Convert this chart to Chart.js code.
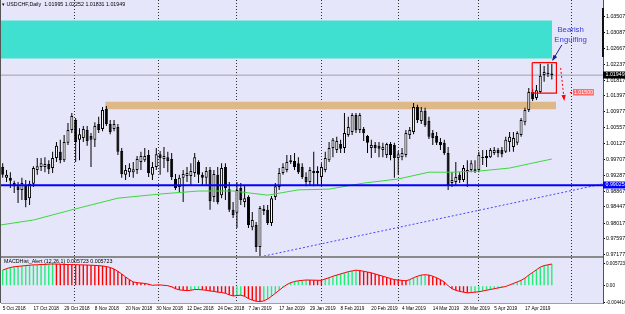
<!DOCTYPE html>
<html>
<head>
<meta charset="utf-8">
<script src="https://cdn.jsdelivr.net/npm/chart.js@4.4.0/dist/chart.umd.min.js"></script>
<style>
  html, body { margin: 0; padding: 0; background: #fff; }
  #wrap { width: 625px; height: 314px; }
</style>
</head>
<body>
<div id="wrap"><canvas id="chart" width="625" height="314"></canvas></div>
<script>
// USDCHF daily bars, 5 Oct 2018 .. 26 Apr 2019 (index = bar number)
const opens = [
  0.9951, 0.9922, 0.9922, 0.9908, 0.9900, 0.9890, 0.9903, 0.9868, 0.9906, 0.9943,
  0.9951, 0.9951, 0.9959, 0.9948, 0.9975, 0.9991, 0.9969, 1.0015, 1.0049, 1.0076,
  1.0023, 1.0028, 1.0049, 1.0033, 1.0023, 1.0065, 1.0052, 1.0105, 1.0065, 1.0052,
  1.0057, 0.9993, 0.9930, 0.9937, 0.9937, 0.9943, 0.9964, 0.9969, 0.9983, 0.9930,
  0.9951, 0.9985, 0.9972, 0.9977, 0.9972, 0.9919, 0.9898, 0.9922, 0.9927, 0.9927,
  0.9935, 0.9964, 0.9930, 0.9922, 0.9943, 0.9871, 0.9930, 0.9876, 0.9951, 0.9892,
  0.9837, 0.9829, 0.9895, 0.9858, 0.9871, 0.9791, 0.9797, 0.9738, 0.9839, 0.9837,
  0.9802, 0.9871, 0.9898, 0.9935, 0.9943, 0.9964, 0.9967, 0.9961, 0.9951, 0.9924,
  0.9911, 0.9935, 0.9935, 0.9924, 0.9943, 0.9969, 1.0001, 0.9996, 1.0012, 1.0001,
  1.0036, 1.0044, 1.0089, 1.0049, 1.0052, 1.0033, 1.0001, 1.0009, 1.0007, 0.9996,
  0.9983, 1.0012, 1.0009, 0.9975, 0.9977, 0.9983, 1.0036, 1.0044, 1.0110, 1.0073,
  1.0100, 1.0073, 1.0041, 1.0033, 1.0017, 1.0015, 0.9988, 0.9908, 0.9911, 0.9930,
  0.9916, 0.9937, 0.9943, 0.9940, 0.9943, 0.9975, 0.9975, 0.9977, 0.9988, 0.9996,
  0.9996, 0.9991, 1.0017, 1.0004, 1.0015, 1.0036, 1.0070, 1.0102, 1.0150, 1.0134,
  1.0150, 1.0195, 1.0198, 1.01995
];
const highs = [
  0.9961, 0.9943, 0.9937, 0.9914, 0.9911, 0.9922, 0.9916, 0.9914, 0.9953, 0.9975,
  0.9975, 0.9977, 0.9969, 0.9991, 1.0017, 1.0023, 1.0036, 1.0068, 1.0094, 1.0081,
  1.0054, 1.0060, 1.0060, 1.0041, 1.0070, 1.0084, 1.0110, 1.0113, 1.0076, 1.0076,
  1.0065, 1.0001, 0.9956, 0.9961, 0.9964, 0.9980, 0.9991, 1.0001, 0.9996, 0.9964,
  1.0001, 0.9993, 1.0004, 0.9991, 0.9988, 0.9932, 0.9930, 0.9943, 0.9951, 0.9961,
  0.9988, 0.9969, 0.9937, 0.9951, 0.9951, 0.9943, 0.9951, 0.9961, 0.9961, 0.9911,
  0.9858, 0.9911, 0.9908, 0.9903, 0.9876, 0.9831, 0.9805, 0.9847, 0.9850, 0.9850,
  0.9874, 0.9908, 0.9948, 0.9961, 0.9983, 0.9983, 0.9988, 0.9977, 0.9961, 0.9937,
  0.9951, 0.9991, 0.9953, 0.9961, 0.9991, 1.0017, 1.0028, 1.0031, 1.0023, 1.0094,
  1.0084, 1.0094, 1.0094, 1.0094, 1.0057, 1.0036, 1.0023, 1.0017, 1.0017, 1.0015,
  1.0015, 1.0017, 1.0015, 0.9993, 1.0001, 1.0049, 1.0057, 1.0121, 1.0116, 1.0110,
  1.0108, 1.0084, 1.0049, 1.0044, 1.0028, 1.0023, 1.0004, 0.9937, 0.9964, 0.9937,
  0.9956, 0.9969, 0.9969, 0.9969, 0.9991, 0.9996, 0.9996, 1.0001, 1.0004, 1.0001,
  1.0004, 1.0031, 1.0044, 1.0044, 1.0046, 1.0081, 1.0108, 1.0161, 1.0158, 1.0169,
  1.0225, 1.0219, 1.0225, 1.02252
];
const lows = [
  0.9922, 0.9911, 0.9895, 0.9882, 0.9855, 0.9863, 0.9844, 0.9850, 0.9898, 0.9930,
  0.9940, 0.9937, 0.9932, 0.9935, 0.9964, 0.9961, 0.9964, 1.0009, 1.0041, 0.9964,
  0.9969, 1.0017, 1.0007, 0.9951, 1.0004, 1.0041, 1.0046, 1.0060, 1.0038, 1.0046,
  0.9983, 0.9922, 0.9916, 0.9924, 0.9922, 0.9932, 0.9943, 0.9964, 0.9924, 0.9916,
  0.9943, 0.9930, 0.9948, 0.9937, 0.9916, 0.9890, 0.9882, 0.9858, 0.9911, 0.9903,
  0.9924, 0.9908, 0.9903, 0.9903, 0.9837, 0.9858, 0.9852, 0.9868, 0.9863, 0.9831,
  0.9815, 0.9789, 0.9850, 0.9844, 0.9789, 0.9783, 0.9725, 0.9712, 0.9823, 0.9797,
  0.9794, 0.9863, 0.9890, 0.9930, 0.9937, 0.9959, 0.9943, 0.9932, 0.9919, 0.9900,
  0.9903, 0.9900, 0.9903, 0.9903, 0.9937, 0.9964, 0.9977, 0.9988, 0.9988, 0.9988,
  1.0031, 1.0036, 1.0041, 1.0041, 1.0020, 0.9988, 0.9975, 0.9988, 0.9977, 0.9977,
  0.9975, 0.9969, 0.9922, 0.9930, 0.9969, 0.9977, 1.0025, 1.0038, 1.0068, 1.0065,
  1.0057, 1.0025, 1.0009, 1.0009, 0.9996, 0.9983, 0.9890, 0.9898, 0.9903, 0.9908,
  0.9911, 0.9898, 0.9937, 0.9935, 0.9937, 0.9956, 0.9951, 0.9975, 0.9983, 0.9977,
  0.9977, 0.9988, 0.9991, 0.9991, 1.0009, 1.0031, 1.0062, 1.0097, 1.0126, 1.0129,
  1.0147, 1.0177, 1.0190, 1.01831
];
const closes = [
  0.9930, 0.9930, 0.9914, 0.9900, 0.9890, 0.9908, 0.9863, 0.9906, 0.9948, 0.9953,
  0.9961, 0.9959, 0.9945, 0.9975, 1.0007, 0.9969, 1.0017, 1.0049, 1.0086, 1.0017,
  1.0038, 1.0052, 1.0020, 1.0023, 1.0060, 1.0049, 1.0102, 1.0065, 1.0044, 1.0065,
  0.9991, 0.9932, 0.9943, 0.9948, 0.9945, 0.9972, 0.9980, 0.9980, 0.9935, 0.9951,
  0.9985, 0.9975, 0.9980, 0.9967, 0.9924, 0.9895, 0.9922, 0.9932, 0.9935, 0.9940,
  0.9977, 0.9930, 0.9922, 0.9940, 0.9860, 0.9932, 0.9858, 0.9948, 0.9895, 0.9837,
  0.9823, 0.9890, 0.9863, 0.9868, 0.9797, 0.9810, 0.9738, 0.9842, 0.9834, 0.9802,
  0.9868, 0.9900, 0.9935, 0.9951, 0.9964, 0.9969, 0.9951, 0.9937, 0.9924, 0.9911,
  0.9943, 0.9940, 0.9940, 0.9951, 0.9975, 1.0001, 1.0023, 1.0020, 0.9999, 1.0041,
  1.0057, 1.0089, 1.0049, 1.0089, 1.0041, 1.0015, 1.0009, 1.0001, 0.9999, 1.0004,
  1.0012, 0.9983, 0.9975, 0.9985, 0.9988, 1.0041, 1.0049, 1.0110, 1.0076, 1.0100,
  1.0062, 1.0031, 1.0028, 1.0015, 1.0009, 0.9988, 0.9903, 0.9916, 0.9924, 0.9916,
  0.9948, 0.9943, 0.9961, 0.9945, 0.9983, 0.9977, 0.9980, 0.9996, 0.9996, 0.9988,
  0.9985, 1.0023, 1.0031, 1.0028, 1.0041, 1.0076, 1.0102, 1.0150, 1.0131, 1.0155,
  1.0193, 1.0203, 1.0201, 1.01949
];
// MACDHist_Alert(12,26,1) value per bar
const macd = [
  0.0041, 0.0045, 0.0048, 0.0050, 0.0051, 0.0052, 0.0053, 0.0054, 0.0055, 0.0055,
  0.0056, 0.0056, 0.0057, 0.00572, 0.0057, 0.00565, 0.0056, 0.00558, 0.00556, 0.00553,
  0.0055, 0.00548, 0.00545, 0.0054, 0.00535, 0.0053, 0.0052, 0.00505, 0.0048, 0.0044,
  0.0038, 0.0031, 0.0023, 0.0016, 0.0010, 0.0008, 0.0007, 0.0006, 0.0004, 0.0001,
  0.0002, 0.0002, 0.0001, 0.0000, -0.0003, -0.0008, -0.0011, -0.0012, -0.0013, -0.0012,
  -0.0010, -0.0010, -0.0011, -0.0012, -0.0014, -0.0015, -0.0017, -0.0018, -0.0020, -0.0024,
  -0.0027, -0.0026, -0.0025, -0.0028, -0.0034, -0.0038, -0.0041, -0.0042, -0.0040, -0.0035,
  -0.0028, -0.0020, -0.0012, -0.0004, 0.0003, 0.0008, 0.0011, 0.0013, 0.0014, 0.0015,
  0.00148, 0.00145, 0.00143, 0.0014, 0.0018, 0.0021, 0.0025, 0.0028, 0.0031, 0.0034,
  0.0037, 0.0039, 0.0041, 0.0040, 0.0038, 0.0036, 0.0034, 0.0031, 0.0028, 0.0025,
  0.0022, 0.0019, 0.0016, 0.0015, 0.0014, 0.0013, 0.0016, 0.0021, 0.0025, 0.0028,
  0.0029, 0.0028, 0.0025, 0.0021, 0.0016, 0.0010, 0.0000, -0.0008, -0.0012, -0.0015,
  -0.0017, -0.0019, -0.0018, -0.0017, -0.0016, -0.0014, -0.0012, -0.0010, -0.0008, -0.0006,
  -0.0004, -0.0002, 0.0002, 0.0006, 0.0010, 0.0014, 0.0020, 0.0028, 0.0035, 0.0042,
  0.0049, 0.0053, 0.0055, 0.00572
];
// green moving average, read at a few bars
const maBars   = [-0.44, 8, 18, 30, 41, 51, 60, 69, 77, 85, 94, 103, 111, 117, 124, 132, 137, 143];
const maValues = [0.9797, 0.9810, 0.9837, 0.9868, 0.9879, 0.9887, 0.9887, 0.9876, 0.9890, 0.9892,
                  0.9908, 0.9919, 0.9937, 0.9937, 0.9940, 0.9948, 0.9959, 0.9972];

const dateLabels = ['5 Oct 2018', '17 Oct 2018', '29 Oct 2018', '8 Nov 2018', '20 Nov 2018', '30 Nov 2018',
  '12 Dec 2018', '24 Dec 2018', '7 Jan 2019', '17 Jan 2019', '29 Jan 2019', '8 Feb 2019',
  '20 Feb 2019', '4 Mar 2019', '14 Mar 2019', '26 Mar 2019', '5 Apr 2019', '17 Apr 2019'];
const dateLabelBars = [0, 8, 16, 24, 32, 40, 48, 56, 64, 72, 80, 88, 96, 104, 112, 120, 128, 136];
const monthStartBars = [18.6, 40.7, 61, 83, 103, 124, 148.2];
const priceTicks = [1.03507, 1.03087, 1.02667, 1.02237, 1.01817, 1.01397, 1.00977, 1.00557,
  1.00127, 0.99707, 0.99287, 0.98867, 0.98447, 0.98017, 0.97597, 0.97177];
const macdTicks = [0.005723, 0, -0.004416];
const macdTickLabels = ['0.005723', '0.00', '-0.004416'];

const lastPrice = 1.01949;
const supportLevel = 0.99025;
const targetPrice = 1.01500;
const resistZone = { from: -0.44, to: 143.1, low: 1.0239, high: 1.0340 };
const breakZone = { from: 26.7, to: 144.1, low: 1.0104, high: 1.0124 };
const trendLine = [{ x: 67, y: 0.9712 }, { x: 156.33, y: 0.9906 }];
const patternBox = { from: 137.9, to: 144.2, low: 1.0147, high: 1.0228 };
const blueArrow = [{ x: 145.6, y: 1.0275 }, { x: 143.3, y: 1.0236 }];
const redArrow = [{ x: 145.3, y: 1.0214 }, { x: 146.2, y: 1.0130 }];

const xMin = -0.44, xMax = 156.33;
const yMin = 0.97117, yMax = 1.03945;
const mMin = -0.004562, mMax = 0.007568;

const FONT = '"Liberation Sans", Arial, sans-serif';
Chart.defaults.font.family = FONT;
Chart.defaults.font.size = 5.3;
Chart.defaults.color = '#000';

const wickData = opens.map((o, i) => ({ x: i, y: [lows[i], highs[i]] }));
const bodyData = opens.map((o, i) => ({ x: i, y: [Math.min(o, closes[i]), Math.max(o, closes[i])] }));
const bodyFill = opens.map((o, i) => closes[i] >= o ? '#ffffff' : '#000000');
const macdData = macd.map((v, i) => ({ x: i, y: v }));
const macdColor = macd.map((v, i) => (i === 0 || v >= macd[i - 1]) ? '#22ee77' : '#ff0000');
const maData = maBars.map((b, i) => ({ x: b, y: maValues[i] }));

function hLine(v) { return [{ x: xMin, y: v }, { x: xMax, y: v }]; }
function band(r, v) { return [{ x: r.from, y: v }, { x: r.to, y: v }]; }
function rect(r) {
  return [{ x: r.from, y: r.high }, { x: r.to, y: r.high }, { x: r.to, y: r.low },
          { x: r.from, y: r.low }, { x: r.from, y: r.high }];
}

function drawArrow(ctx, p1, p2, color, dash, head) {
  ctx.save();
  ctx.strokeStyle = color;
  ctx.fillStyle = color;
  ctx.lineWidth = 1;
  ctx.setLineDash(dash);
  ctx.beginPath();
  ctx.moveTo(p1.x, p1.y);
  ctx.lineTo(p2.x, p2.y);
  ctx.stroke();
  ctx.setLineDash([]);
  const a = Math.atan2(p2.y - p1.y, p2.x - p1.x);
  ctx.beginPath();
  ctx.moveTo(p2.x + Math.cos(a) * 1.5, p2.y + Math.sin(a) * 1.5);
  ctx.lineTo(p2.x - head * Math.cos(a - 0.45), p2.y - head * Math.sin(a - 0.45));
  ctx.lineTo(p2.x - head * Math.cos(a + 0.45), p2.y - head * Math.sin(a + 0.45));
  ctx.closePath();
  ctx.fill();
  ctx.restore();
}

function axisBox(ctx, y, text, fill) {
  ctx.fillStyle = fill;
  ctx.fillRect(603, Math.round(y) - 3.5, 22, 7);
  ctx.fillStyle = '#fff';
  ctx.textBaseline = 'middle';
  ctx.textAlign = 'left';
  ctx.fillText(text, 605.5, Math.round(y));
}

const background = {
  id: 'background',
  beforeDraw(chart) {
    const { ctx, chartArea: a } = chart;
    ctx.save();
    ctx.fillStyle = '#ffffff';
    ctx.fillRect(0, 0, chart.width, chart.height);
    ctx.fillStyle = '#e6e6fa';
    ctx.fillRect(a.left, a.top, a.right - a.left, a.bottom - a.top);
    ctx.restore();
  }
};

const overlay = {
  id: 'overlay',
  afterDraw(chart) {
    const { ctx, chartArea: a } = chart;
    const { x, y, y2 } = chart.scales;
    const px = p => ({ x: x.getPixelForValue(p.x), y: y.getPixelForValue(p.y) });
    ctx.save();

    // panel separator and frame
    ctx.fillStyle = '#8a8a8a';
    ctx.fillRect(a.left, y2.top - 1, a.right - a.left, 2);
    ctx.fillStyle = '#555';
    ctx.fillRect(a.left - 1, a.top, 1, a.bottom - a.top);
    ctx.fillStyle = '#111';
    ctx.fillRect(602, 8, 2, 49);

    // titles
    ctx.font = '5.3px ' + FONT;
    ctx.fillStyle = '#000';
    ctx.textBaseline = 'middle';
    ctx.textAlign = 'left';
    ctx.fillText('\u25BE USDCHF,Daily  1.01995 1.02252 1.01831 1.01949', 2, 5);
    ctx.fillText('MACDHist_Alert (12,26,1) 0.005723 0.005723', 4, y2.top + 5);

    // arrows and notes
    drawArrow(ctx, px(blueArrow[0]), px(blueArrow[1]), '#1c1c8c', [], 5);
    drawArrow(ctx, px(redArrow[0]), px(redArrow[1]), '#ff0000', [2, 2], 5);

    ctx.font = '7.8px ' + FONT;
    ctx.fillStyle = '#3a3ad8';
    ctx.textAlign = 'center';
    const t1 = px({ x: 147.9, y: 1.0315 });
    const t2 = px({ x: 147.9, y: 1.0288 });
    ctx.fillText('Bearish', t1.x, t1.y);
    ctx.fillText('Engulfing', t2.x, t2.y);

    // target label
    const tg = px({ x: 148.5, y: targetPrice });
    ctx.fillStyle = '#ff0000';
    ctx.fillRect(tg.x - 3, tg.y, 2, 1);
    ctx.fillStyle = '#ff6a6a';
    ctx.fillRect(tg.x, tg.y - 3, 21, 6.5);
    ctx.font = '5.3px ' + FONT;
    ctx.fillStyle = '#fff';
    ctx.textAlign = 'left';
    ctx.fillText('1.01500', tg.x + 1, tg.y + 0.3);

    // price boxes on the axis
    axisBox(ctx, y.getPixelForValue(lastPrice), '1.01949', '#000');
    axisBox(ctx, y.getPixelForValue(supportLevel), '0.99025', '#0000ff');
    ctx.restore();
  }
};

function fixWidth(s) { s.width = 22; s.paddingTop = 0; s.paddingBottom = 0; }

new Chart(document.getElementById('chart'), {
  type: 'line',
  data: {
    datasets: [
      { data: band(resistZone, resistZone.high), borderWidth: 0, pointRadius: 0, fill: false, order: 30 },
      { data: band(resistZone, resistZone.low), borderWidth: 0, pointRadius: 0, fill: '-1',
        backgroundColor: '#40e0d0', order: 30 },
      { data: band(breakZone, breakZone.high), borderWidth: 0, pointRadius: 0, fill: false, order: 30 },
      { data: band(breakZone, breakZone.low), borderWidth: 0, pointRadius: 0, fill: '-1',
        backgroundColor: '#deb887', order: 30 },
      { data: hLine(lastPrice), borderColor: '#a0a0a8', borderWidth: 1, pointRadius: 0, order: 25 },
      { type: 'bar', data: wickData, backgroundColor: '#000', barThickness: 1, grouped: false,
        inflateAmount: 0, order: 20 },
      { type: 'bar', data: bodyData, backgroundColor: bodyFill, borderColor: '#000', borderWidth: 1,
        borderSkipped: false, barThickness: 3, minBarLength: 1, grouped: false, inflateAmount: 0, order: 19 },
      { data: maData, borderColor: '#3ed83e', borderWidth: 1, pointRadius: 0, order: 15 },
      { data: trendLine, borderColor: '#4646ff', borderWidth: 1, borderDash: [2, 2], pointRadius: 0, order: 14 },
      { data: hLine(supportLevel), borderColor: '#0000ff', borderWidth: 2, pointRadius: 0, order: 13 },
      { data: rect(patternBox), borderColor: '#ff0000', borderWidth: 1.2, pointRadius: 0, order: 12 },
      { type: 'bar', data: macdData, yAxisID: 'y2', backgroundColor: macdColor, barThickness: 1.4,
        grouped: false, inflateAmount: 0, order: 11 },
      { data: macdData, yAxisID: 'y2', borderColor: '#ff0000', borderWidth: 1, pointRadius: 0, order: 10 }
    ]
  },
  options: {
    responsive: false,
    animation: false,
    devicePixelRatio: 1,
    events: [],
    layout: { padding: { left: 1, top: 0, right: 0, bottom: 0 } },
    plugins: {
      legend: { display: false },
      tooltip: { enabled: false },
      filler: { drawTime: 'beforeDatasetsDraw' }
    },
    elements: { point: { radius: 0 }, line: { tension: 0 } },
    scales: {
      x: {
        type: 'linear', position: 'bottom', min: xMin, max: xMax, offset: false,
        grid: { display: false, drawTicks: false, offset: false },
        border: { display: true, color: '#a0a0a0' },
        afterBuildTicks: s => { s.ticks = dateLabelBars.map(v => ({ value: v })); },
        afterFit: s => { s.height = 11; s.paddingLeft = 0; s.paddingRight = 0; },
        ticks: { autoSkip: false, maxRotation: 0, minRotation: 0, align: 'start', padding: 3,
          font: { size: 4.7 }, callback: (v, i) => dateLabels[i] }
      },
      xm: {
        type: 'linear', position: 'top', min: xMin, max: xMax, offset: false,
        grid: { display: true, drawTicks: false, color: '#303030', lineWidth: 1, offset: false },
        border: { display: false, dash: [1, 2] },
        ticks: { display: false },
        afterBuildTicks: s => { s.ticks = monthStartBars.map(v => ({ value: v })); },
        afterFit: s => { s.height = 0; s.paddingLeft = 0; s.paddingRight = 0; }
      },
      y: {
        type: 'linear', position: 'right', stack: 'panels', stackWeight: 257,
        min: yMin, max: yMax, beginAtZero: false,
        grid: { drawOnChartArea: false, drawTicks: true, tickLength: 2, color: '#000' },
        border: { display: true, color: '#505050' },
        afterBuildTicks: s => { s.ticks = priceTicks.map(v => ({ value: v })); },
        afterFit: fixWidth,
        ticks: { autoSkip: false, padding: 1, callback: v => v.toFixed(5) }
      },
      y2: {
        type: 'linear', position: 'right', stack: 'panels', stackWeight: 46,
        min: mMin, max: mMax, beginAtZero: false,
        grid: { drawOnChartArea: false, drawTicks: true, tickLength: 2, color: '#000' },
        border: { display: true, color: '#505050' },
        afterBuildTicks: s => { s.ticks = macdTicks.map(v => ({ value: v })); },
        afterFit: fixWidth,
        ticks: { autoSkip: false, padding: 1, font: { size: 4.6 }, callback: (v, i) => macdTickLabels[i] }
      }
    }
  },
  plugins: [background, overlay]
});
</script>
</body>
</html>
